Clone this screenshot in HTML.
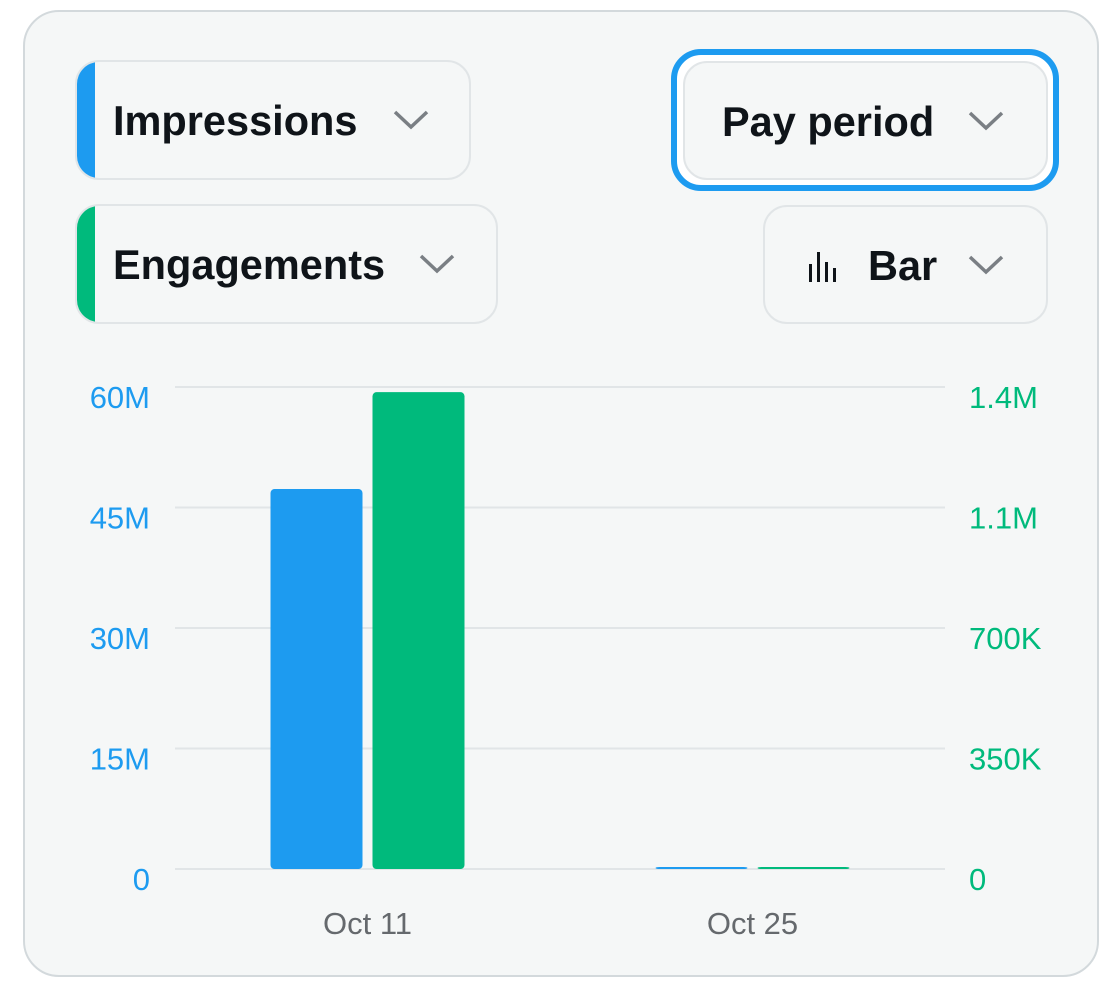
<!DOCTYPE html>
<html><head><meta charset="utf-8">
<style>
body{margin:0;background:#fff;width:1117px;height:1003px;position:relative;overflow:hidden;font-family:"Liberation Sans",sans-serif}
.card{position:absolute;left:23px;top:10px;width:1072px;height:963px;border:2px solid #d3d9dc;border-radius:36px;background:#f5f7f7}
.btn{position:absolute;border:2px solid #e1e5e7;border-radius:24px;box-sizing:border-box;background:#f5f7f7;overflow:hidden}
.btn .lbl{position:absolute;top:2px;bottom:0;display:flex;align-items:center;font-weight:bold;font-size:41.5px;color:#0f1419}
.stripe{position:absolute;left:0;top:0;bottom:0;width:18px}
.chev{position:absolute;top:50%;margin-top:-10px}
.ring{position:absolute;left:671px;top:49px;width:388px;height:142px;box-sizing:border-box;border:6px solid #1d9bf0;border-radius:30px;background:#fff}
</style></head><body>
<div class="card"></div>

<div class="btn" style="left:75px;top:60px;width:396px;height:120px">
<div class="stripe" style="background:#1d9bf0"></div>
<div class="lbl" style="left:36px">Impressions</div>
<svg class="chev" style="left:316px" width="36" height="20" viewBox="0 0 36 20"><polyline points="2,2 18,17 34,2" fill="none" stroke="#7a7f84" stroke-width="3.5"/></svg>
</div>

<div class="ring"></div>
<div class="btn" style="left:683px;top:61px;width:365px;height:119px">
<div class="lbl" style="left:37px">Pay period</div>
<svg class="chev" style="left:283px" width="36" height="20" viewBox="0 0 36 20"><polyline points="2,2 18,17 34,2" fill="none" stroke="#7a7f84" stroke-width="3.5"/></svg>
</div>

<div class="btn" style="left:75px;top:204px;width:423px;height:120px">
<div class="stripe" style="background:#00ba7c"></div>
<div class="lbl" style="left:36px">Engagements</div>
<svg class="chev" style="left:342px" width="36" height="20" viewBox="0 0 36 20"><polyline points="2,2 18,17 34,2" fill="none" stroke="#7a7f84" stroke-width="3.5"/></svg>
</div>

<div class="btn" style="left:763px;top:205px;width:285px;height:119px">
<svg style="position:absolute;left:43px;top:45px" width="32" height="30" viewBox="0 0 32 30"><g fill="#0f1419"><rect x="1" y="12" width="3" height="18"/><rect x="9" y="0" width="3" height="30"/><rect x="17" y="10" width="3" height="20"/><rect x="25" y="16" width="3" height="14"/></g></svg>
<div class="lbl" style="left:103px">Bar</div>
<svg class="chev" style="left:203px" width="36" height="20" viewBox="0 0 36 20"><polyline points="2,2 18,17 34,2" fill="none" stroke="#7a7f84" stroke-width="3.5"/></svg>
</div>

<svg id="chart" style="position:absolute;left:0;top:0" width="1117" height="1003"></svg>
<script>
const categories=["Oct 11","Oct 25"];
const impressions=[47300000,200000];
const engagements=[1385000,4000];
const leftTicks=[0,15000000,30000000,45000000,60000000];
const leftTickLabels=["0","15M","30M","45M","60M"];
const rightTicks=[0,350000,700000,1050000,1400000];
const rightTickLabels=["0","350K","700K","1.1M","1.4M"];
const NS="http://www.w3.org/2000/svg";
const svg=document.getElementById('chart');
const y0=869,y1=387,x0=175,x1=945;
const yL=v=>y0-(v/60000000)*(y0-y1);
const yR=v=>y0-(v/1400000)*(y0-y1);
const band=(x1-x0)/categories.length;
const xC=i=>x0+band*(i+0.5);
function mk(t,a){const e=document.createElementNS(NS,t);for(const k in a)e.setAttribute(k,a[k]);svg.appendChild(e);return e;}
leftTicks.forEach((v,i)=>{
 const l=mk('line',{x1:x0,x2:x1,y1:yL(v),y2:yL(v),stroke:'#e1e5e7','stroke-width':2});
 
 
 const t=mk('text',{x:150,y:yL(v)+21,'text-anchor':'end','font-size':31,fill:'#1d9bf0','font-family':'Liberation Sans'});
 t.textContent=leftTickLabels[i];
 
 
});
rightTicks.forEach((v,i)=>{
 const t=mk('text',{x:969,y:yR(v)+21,'font-size':31,fill:'#00ba7c','font-family':'Liberation Sans'});
 t.textContent=rightTickLabels[i];
 
 
});
const bw=92;
categories.forEach((c,i)=>{
 const cx=xC(i);
 const ty=yL(impressions[i]);
 const b=mk('rect',{x:cx-97,y:Math.min(ty,y0-2),width:bw,height:Math.max(y0-ty,2),rx:4,fill:'#1d9bf0'});
 
 
 const gy=yR(engagements[i]);
 const g=mk('rect',{x:cx+5,y:Math.min(gy,y0-2),width:bw,height:Math.max(y0-gy,2),rx:4,fill:'#00ba7c'});
 
 
 const t=mk('text',{x:cx,y:934,'text-anchor':'middle','font-size':31,fill:'#65696d','font-family':'Liberation Sans'});
 t.textContent=c;
 
 
});
</script>
</body></html>
